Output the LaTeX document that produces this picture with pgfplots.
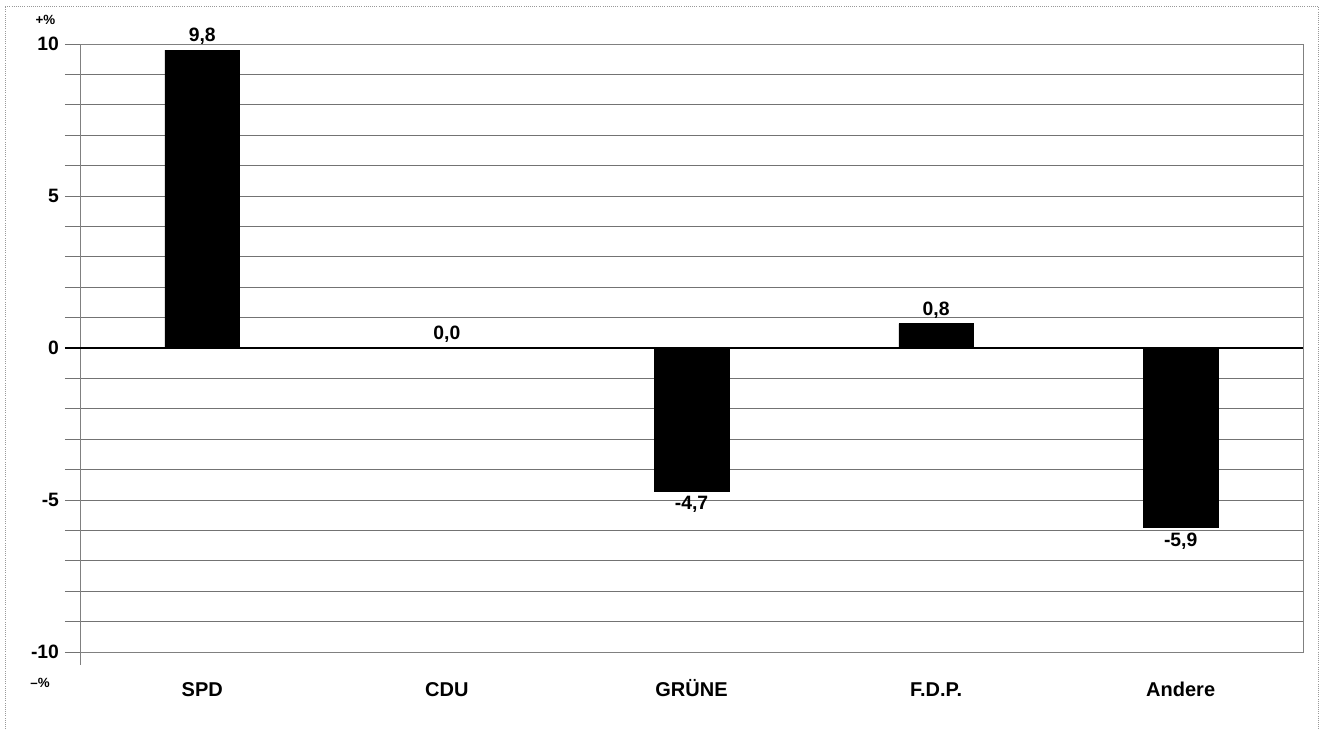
\documentclass[border=0pt]{standalone}
\usepackage{pgfplots}
\pgfplotsset{compat=1.18}
\usepackage{fontspec}
\setmainfont{Liberation Sans}
\begin{document}
\begin{tikzpicture}
\useasboundingbox (0,0) rectangle (991.5pt,546.75pt);
\draw[gray!80, densely dotted, line width=0.6pt] (3.75pt,0) -- (3.75pt,542.25pt) -- (988.5pt,542.25pt) -- (988.5pt,0);
\begin{axis}[
  at={(60pt,57.75pt)}, anchor=south west,
  scale only axis, width=917.25pt, height=456pt,
  xmin=-0.5, xmax=4.5, ymin=-10, ymax=10,
  ybar, bar width=56pt,
  xtick={0,1,2,3,4},
  xticklabels={SPD,CDU,GRÜNE,F.D.P.,Andere},
  x tick style={draw=none},
  xticklabel style={font=\bfseries\fontsize{15}{17}\selectfont, anchor=base, yshift=-22pt},
  ytick pos=left,
  ytick={-10,-5,0,5,10},
  minor ytick={-9,-8,-7,-6,-4,-3,-2,-1,1,2,3,4,6,7,8,9},
  ymajorgrids, yminorgrids,
  major grid style={black!55, line width=0.6pt},
  minor grid style={black!55, line width=0.6pt},
  tick align=outside,
  major tick length=11.25pt, minor tick length=11.25pt,
  y tick style={black!55, line width=0.6pt},
  yticklabel style={font=\bfseries\fontsize{14.5}{17}\selectfont, xshift=-1pt},
  /pgf/number format/assume math mode=true,
  axis line style={black!50, line width=0.6pt},
  nodes near coords,
  nodes near coords align={vertical},
  every node near coord/.append style={font=\bfseries\fontsize{14.5}{17}\selectfont, inner sep=4pt, /pgf/number format/.cd, fixed, fixed zerofill, precision=1, use comma, assume math mode=true},
  clip=false,
]
\addplot[fill=black, draw=black] coordinates {(0,9.8) (1,0.0) (2,-4.7) (3,0.8) (4,-5.9)};
\draw[black, line width=1.6pt] ([xshift=-11.25pt]axis cs:-0.5,0) -- (axis cs:4.5,0);
\draw[black!50, line width=0.6pt] (rel axis cs:0,0) -- ([yshift=-10pt]rel axis cs:0,0);
\node[font=\bfseries\fontsize{10}{11}\selectfont, anchor=center] at ([xshift=-26pt,yshift=18pt]rel axis cs:0,1) {+\%};
\node[font=\bfseries\fontsize{10}{11}\selectfont, anchor=center] at ([xshift=-30pt,yshift=-23pt]rel axis cs:0,0) {--\%};
\end{axis}
\end{tikzpicture}
\end{document}
